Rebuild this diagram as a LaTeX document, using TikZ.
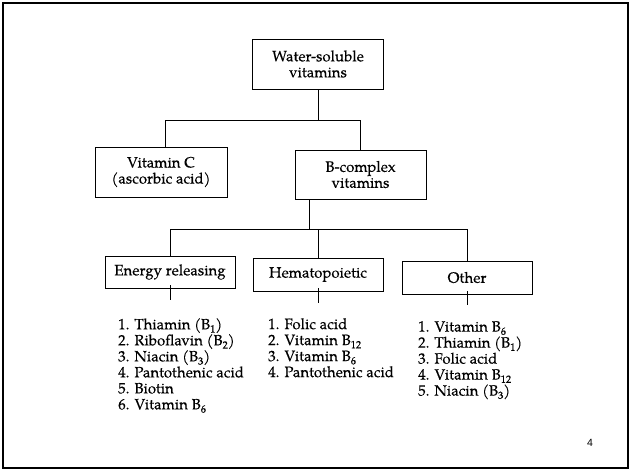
\documentclass[tikz,border=0pt]{standalone}
\usepackage{fontspec}
\setmainfont{TeX Gyre Pagella}[FakeBold=0.25]
\newfontfamily\pnum{Liberation Sans}
\newcommand\sbs[1]{\raisebox{-0.45ex}{\fontsize{10.5}{10.5}\selectfont #1}}
\begin{document}
\begin{tikzpicture}[x=1pt,y=-1pt,
  every node/.style={font=\fontsize{15}{16}\selectfont, inner sep=0pt},
  box/.style={draw, line width=0.9pt, minimum width=131pt, align=center},
  conn/.style={line width=0.9pt},
  lst/.style={anchor=north west, align=left, font=\fontsize{15}{16}\selectfont}]
\useasboundingbox (0,0) rectangle (631,471);
\draw[line width=2.6pt] (3,3) rectangle (628,468);
\node[box, minimum height=50pt] (top) at (318,64) {Water-soluble\\vitamins};
\node[box, minimum height=50pt, minimum width=132pt] (vitc) at (161,172) {Vitamin C\\(ascorbic acid)};
\node[box, minimum height=49pt] (bcomp) at (360.5,174.5) {B-complex\\vitamins};
\node[box, minimum height=32pt, minimum width=130pt] (energy) at (170,272) {Energy releasing};
\node[box, minimum height=33pt, minimum width=130pt] (hemato) at (318,274.5) {Hematopoietic};
\node[box, minimum height=33pt, minimum width=130pt] (other) at (467,277.5) {Other};
% level 1 connectors
\draw[conn] (top.south) -- ++(0,31) coordinate (j1);
\coordinate (vl) at ([xshift=4pt]vitc.north);
\draw[conn] (vl) |- (j1) -| (bcomp.north);
% level 2 connectors
\draw[conn] ([xshift=15pt]bcomp.south west) -- ++(0,30) coordinate (j2);
\draw[conn] (energy.north) |- (j2) -| (other.north);
\draw[conn] (hemato.north) -- (hemato.north |- j2);
% ticks
\coordinate (t1) at ([yshift=3pt]energy.south);
\coordinate (t2) at ([yshift=3pt]hemato.south);
\coordinate (t3) at ([yshift=3pt]other.south);
\draw[conn] (t1) -- ++(0,15);
\draw[conn] (t2) -- ++(0,15);
\draw[conn] (t3) -- ++(0,14);
% lists
\node[lst] (l1) at (118,318) {1. Thiamin (B\sbs{1})\\2. Riboflavin (B\sbs{2})\\3. Niacin (B\sbs{3})\\4. Pantothenic acid\\5. Biotin\\6. Vitamin B\sbs{6}};
\node[lst] (l2) at (268,318) {1. Folic acid\\2. Vitamin B\sbs{12}\\3. Vitamin B\sbs{6}\\4. Pantothenic acid};
\node[lst] (l3) at (418,321) {1. Vitamin B\sbs{6}\\2. Thiamin (B\sbs{1})\\3. Folic acid\\4. Vitamin B\sbs{12}\\5. Niacin (B\sbs{3})};
\node[font=\pnum\fontsize{10.5}{12}\selectfont] (pg) at (590,443) {4};
\end{tikzpicture}
\end{document}
